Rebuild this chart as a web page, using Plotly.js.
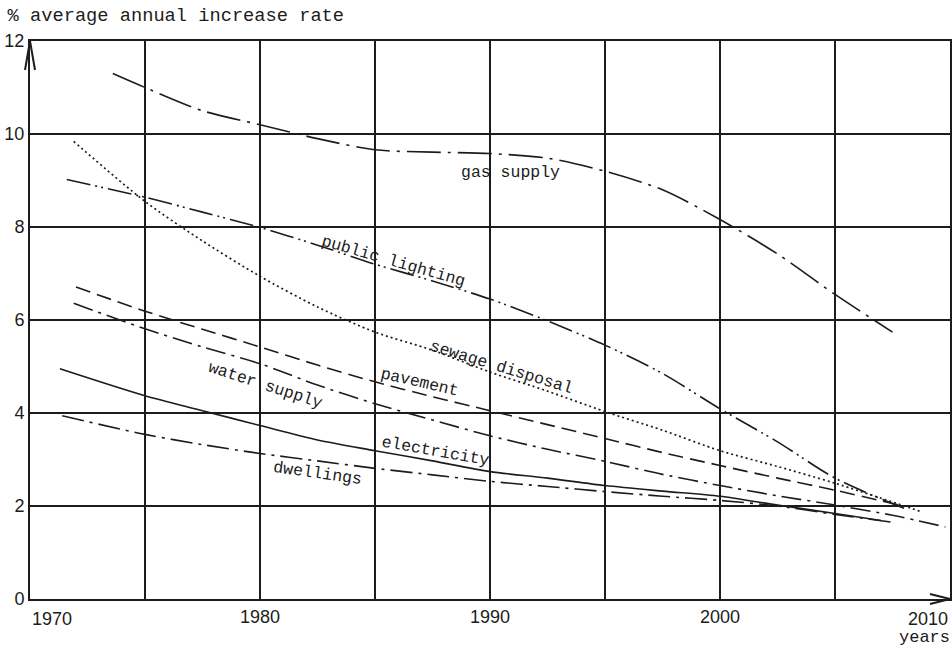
<!DOCTYPE html>
<html>
<head>
<meta charset="utf-8">
<script src="https://cdn.plot.ly/plotly-3.0.1.min.js"></script>
<style>html,body{margin:0;padding:0;background:#fff;}#chart{width:952px;height:649px;}</style>
</head>
<body>
<div id="chart"></div>
<script>
// ---- data ----
const gasYears = [1973.6, 1975, 1977.5, 1980, 1982.5, 1985, 1987.5, 1990, 1992.5, 1995, 1997.5, 2000, 2002.5, 2005, 2007.5];
const gasValues = [11.3, 11.0, 10.5, 10.2, 9.9, 9.66, 9.61, 9.58, 9.48, 9.2, 8.8, 8.16, 7.42, 6.55, 5.74];

const lightingYears = [1971.6, 1975, 1977.5, 1980, 1982.5, 1985, 1987.5, 1990, 1992.5, 1995, 1997.5, 2000, 2002.5, 2005, 2008];
const lightingValues = [9.02, 8.64, 8.32, 7.99, 7.61, 7.2, 6.84, 6.45, 5.98, 5.46, 4.85, 4.09, 3.38, 2.6, 1.95];

const sewageYears = [1971.9, 1975, 1977.5, 1980, 1982.5, 1985, 1987.5, 1990, 1992.5, 1995, 1997.5, 2000, 2002.5, 2005, 2008.8];
const sewageValues = [9.84, 8.55, 7.7, 6.94, 6.28, 5.74, 5.35, 4.88, 4.47, 4.03, 3.63, 3.19, 2.85, 2.49, 1.87];

const pavementYears = [1972, 1975, 1977.5, 1980, 1982.5, 1985, 1987.5, 1990, 1992.5, 1995, 1997.5, 2000, 2002.5, 2005, 2007.8];
const pavementValues = [6.71, 6.19, 5.8, 5.42, 5.03, 4.67, 4.35, 4.05, 3.75, 3.45, 3.15, 2.87, 2.6, 2.34, 2.02];

const waterYears = [1971.9, 1975, 1977.5, 1980, 1982.5, 1985, 1987.5, 1990, 1992.5, 1995, 1997.5, 2000, 2002.5, 2005, 2007.5, 2009.8];
const waterValues = [6.36, 5.81, 5.42, 5.06, 4.6, 4.2, 3.85, 3.51, 3.22, 2.96, 2.68, 2.44, 2.22, 2.02, 1.8, 1.55];

const electricityYears = [1971.3, 1975, 1977.5, 1980, 1982.5, 1985, 1987.5, 1990, 1992.5, 1995, 1997.5, 2000, 2002.5, 2005, 2007];
const electricityValues = [4.95, 4.37, 4.05, 3.73, 3.42, 3.19, 2.97, 2.74, 2.6, 2.44, 2.32, 2.21, 2.02, 1.84, 1.69];

const dwellingsYears = [1971.4, 1975, 1977.5, 1980, 1982.5, 1985, 1987.5, 1990, 1992.5, 1995, 1997.5, 2000, 2002.5, 2005, 2007.5];
const dwellingsValues = [3.94, 3.54, 3.32, 3.13, 2.97, 2.81, 2.67, 2.53, 2.42, 2.31, 2.21, 2.12, 2.0, 1.82, 1.65];

const seriesNames = ["gas supply", "public lighting", "sewage disposal", "pavement", "water supply", "electricity", "dwellings"];
const xTickVals = [1970, 1975, 1980, 1985, 1990, 1995, 2000, 2005, 2010];
const xTickText = ["", "", "1980", "", "1990", "", "2000", "", ""];
const yTickVals = [0, 2, 4, 6, 8, 10, 12];
const yTickText = ["0", "2", "4", "6", "8", "10", "12"];
const yAxisTitle = "% average annual increase rate";
const xAxisTitle = "years";

// ---- styles ----
const INK = "#1c1c1c";
const MONO = "Liberation Mono, DejaVu Sans Mono, monospace";
const NARROW = "Liberation Sans Narrow, Liberation Sans, Arial, sans-serif";

function tr(x, y, name, dash, width) {
  return {
    x: x, y: y, name: name, type: "scatter", mode: "lines",
    line: {color: INK, width: width || 1.6, dash: dash, shape: "spline", smoothing: 0.8},
    hoverinfo: "skip", showlegend: false
  };
}

const data = [
  tr(gasYears, gasValues, seriesNames[0], "34px,7px,3px,7px"),
  tr(lightingYears, lightingValues, seriesNames[1], "24px,5px,2px,4px,2px,5px"),
  tr(sewageYears, sewageValues, seriesNames[2], "2px,3px", 1.7),
  tr(pavementYears, pavementValues, seriesNames[3], "15px,7px"),
  tr(waterYears, waterValues, seriesNames[4], "20px,6px,3px,6px"),
  tr(electricityYears, electricityValues, seriesNames[5], "solid"),
  tr(dwellingsYears, dwellingsValues, seriesNames[6], "22px,6px,3px,6px")
];

function lab(text, x, y, angle) {
  return {text: text, x: x, y: y, xref: "x", yref: "y", showarrow: false,
          textangle: angle, font: {family: MONO, size: 16.5, color: INK},
          xanchor: "center", yanchor: "middle"};
}

const annotations = [
  lab(seriesNames[0], 1990.87, 9.18, 0),
  lab(seriesNames[1], 1985.8, 7.25, 16),
  lab(seriesNames[2], 1990.5, 4.98, 17),
  lab(seriesNames[3], 1986.95, 4.66, 13),
  lab(seriesNames[4], 1980.25, 4.6, 18),
  lab(seriesNames[5], 1987.65, 3.18, 10),
  lab(seriesNames[6], 1982.5, 2.7, 8),
  {text: "1970", x: 1970, y: 0, xref: "x", yref: "paper", xanchor: "left", yanchor: "top",
   yshift: -8, showarrow: false, font: {family: NARROW, size: 18, color: INK}},
  {text: "2010", x: 2010, y: 0, xref: "x", yref: "paper", xanchor: "right", yanchor: "top",
   yshift: -8, showarrow: false, font: {family: NARROW, size: 18, color: INK}},
  {text: xAxisTitle, x: 1, y: 0, xref: "paper", yref: "paper", xanchor: "right", yanchor: "top",
   yshift: -27, xshift: 2, showarrow: false, font: {family: MONO, size: 17, color: INK}}
];

const shapes = [
  {type: "path", xref: "paper", yref: "paper", xsizemode: "pixel", ysizemode: "pixel",
   xanchor: 0, yanchor: 1, path: "M-5,-29L0,0L5,-29",
   line: {color: INK, width: 2}},
  {type: "path", xref: "paper", yref: "paper", xsizemode: "pixel", ysizemode: "pixel",
   xanchor: 1, yanchor: 0, path: "M-20,5L0,0L-20,-5",
   line: {color: INK, width: 2}}
];

const layout = {
  width: 952, height: 649,
  margin: {l: 30, r: 2, t: 41, b: 50},
  paper_bgcolor: "#fff", plot_bgcolor: "#fff",
  title: {text: yAxisTitle, xref: "container", yref: "container", x: 0.008, xanchor: "left",
          y: 0.977, yanchor: "middle", font: {family: MONO, size: 18.7, color: INK}},
  xaxis: {range: [1970, 2010], tickmode: "array", tickvals: xTickVals, ticktext: xTickText,
          showgrid: true, gridcolor: INK, gridwidth: 1.6, zeroline: false,
          showline: true, linecolor: INK, linewidth: 2, mirror: true, ticks: "",
          tickfont: {family: NARROW, size: 18, color: INK}, fixedrange: true},
  yaxis: {range: [0, 12], tickmode: "array", tickvals: yTickVals, ticktext: yTickText,
          showgrid: true, gridcolor: INK, gridwidth: 1.6, zeroline: false,
          showline: true, linecolor: INK, linewidth: 2, mirror: true, ticks: "",
          tickfont: {family: NARROW, size: 18, color: INK}, fixedrange: true},
  annotations: annotations,
  shapes: shapes,
  showlegend: false
};

Plotly.newPlot("chart", data, layout, {displayModeBar: false, staticPlot: true});
</script>
</body>
</html>
